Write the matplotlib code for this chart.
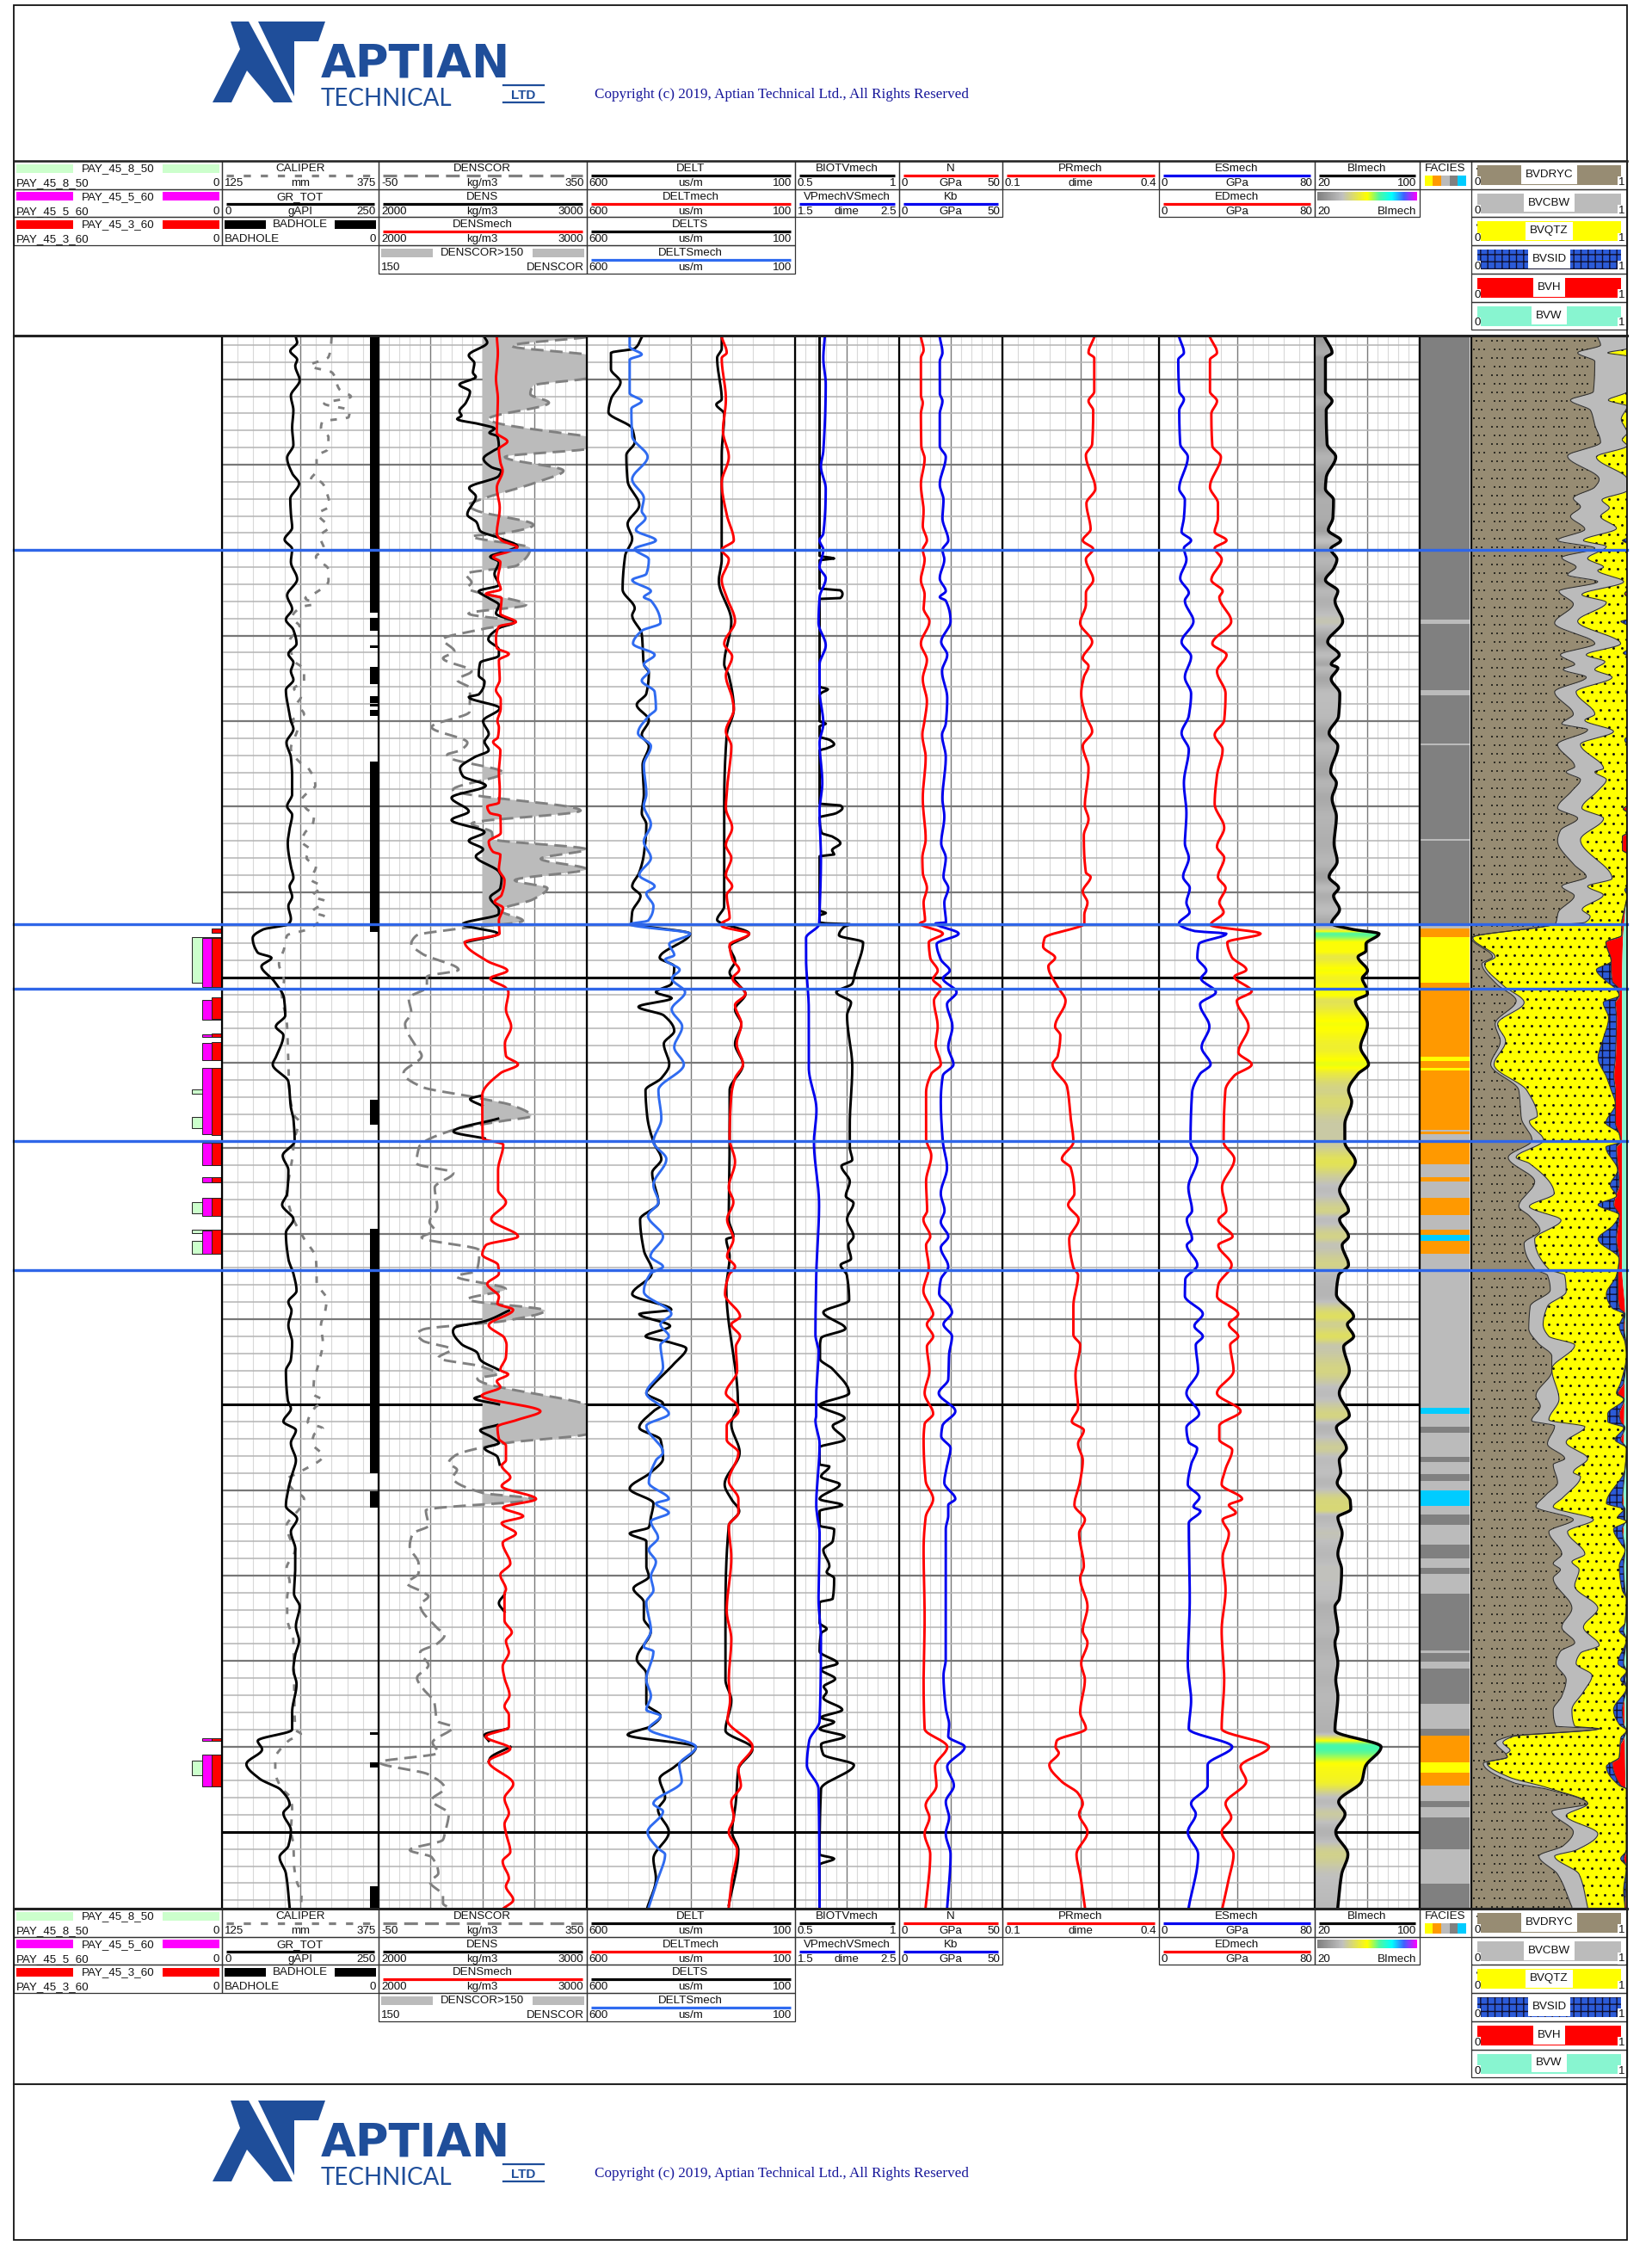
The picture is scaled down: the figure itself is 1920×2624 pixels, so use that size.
import numpy as np
import matplotlib
matplotlib.use("Agg")
import matplotlib.pyplot as plt
from matplotlib.patches import Polygon, Rectangle
from matplotlib.colors import LinearSegmentedColormap

plt.rcParams['font.family'] = ['Liberation Sans', 'DejaVu Sans']
nan = np.nan

# ---- curves as (depth, value) ------------------------------------------------
CALIPER = [(392,300),(403,299),(415,295),(425,265),(433,301),(453,313),(461,331),(469,288),(477,329),(485,327),(490,285),(498,283),(508,295),(522,294),(530,276),(547,276),(557,267),(560,283),(572,292),(588,297),(597,278),(613,295),(623,281),(638,288),(647,275),(662,295),(675,295),(690,272),(695,258),(702,272),(705,253),(718,237),(728,249),(745,233),(768,240),(778,256),(792,256),(800,240),(810,251),(818,245),(830,256),(837,237),(845,246),(870,235),(887,251),(892,262),(913,274),(922,260),(930,252),(940,260),(947,272),(960,269),(967,258),(978,252),(987,265),(997,260),(1007,275),(1022,267),(1030,283),(1042,269),(1047,289),(1060,269),(1065,289),(1074,275),(1080,262),(1087,229),(1103,224),(1120,216),(1140,224),(1150,220),(1193,229),(1240,231),(1270,233),(1297,241),(1303,248),(1323,241),(1347,237),(1387,229),(1413,237),(1437,254),(1463,275),(1480,276),(1490,276),(1510,292),(1523,290),(1540,283),(1560,286),(1580,281),(1593,276),(1602,272),(1620,271),(1627,285),(1637,272),(1653,262),(1660,286),(1667,272),(1677,269),(1692,286),(1710,251),(1720,228),(1730,237),(1742,256),(1753,249),(1763,237),(1773,228),(1787,233),(1800,242),(1823,228),(1838,233),(1857,229),(1880,229),(1907,239),(1950,240),(2010,242),(2015,251),(2022,233),(2032,219),(2043,210),(2058,210),(2077,219),(2090,235),(2103,237),(2127,235),(2143,239),(2167,240),(2188,245),(2200,252),(2217,251)]
GR_TOT = [(392,118),(398,120),(408,109),(418,120),(425,117),(442,124),(460,110),(477,114),(497,112),(517,114),(532,104),(550,112),(562,123),(580,109),(597,110),(613,112),(627,100),(638,112),(653,110),(673,120),(692,104),(708,112),(720,102),(732,114),(748,119),(760,106),(770,114),(780,110),(790,114),(802,102),(823,106),(838,110),(847,114),(863,103),(880,110),(903,112),(923,112),(937,104),(947,112),(963,108),(980,105),(1007,110),(1020,114),(1030,108),(1042,112),(1053,106),(1068,110),(1074,106),(1080,66),(1090,49),(1107,57),(1113,79),(1123,63),(1140,83),(1160,99),(1180,101),(1193,86),(1203,98),(1227,87),(1237,81),(1257,106),(1287,110),(1300,114),(1326,116),(1343,97),(1360,106),(1387,104),(1400,96),(1417,114),(1433,102),(1463,106),(1480,114),(1500,119),(1513,106),(1523,111),(1540,106),(1560,112),(1580,110),(1593,102),(1627,105),(1637,110),(1652,98),(1662,118),(1677,110),(1697,118),(1713,112),(1730,106),(1750,102),(1765,120),(1780,110),(1800,117),(1820,117),(1852,115),(1867,124),(1890,118),(1907,123),(1923,117),(1940,114),(1957,119),(1990,112),(2010,112),(2023,57),(2033,64),(2050,39),(2067,60),(2080,94),(2097,108),(2107,98),(2127,110),(2145,106),(2158,92),(2177,102),(2217,108)]
BADHOLE_TOP = [391,718,750,775,809,818,825,885,1278,1428,1733,2013,2048,2192]
BADHOLE_BASE = [712,733,753,795,817,821,832,1083,1307,1712,1752,2016,2054,2218]

DENSCOR = [(392,350),(402,206),(413,360),(430,420),(440,350),(448,248),(458,242),(468,278),(487,162),(507,350),(512,420),(522,350),(531,193),(547,306),(560,256),(583,135),(587,121),(593,137),(610,248),(620,187),(623,129),(637,242),(657,217),(667,118),(677,129),(683,121),(703,234),(713,123),(723,217),(731,150),(743,74),(757,96),(765,74),(780,129),(790,101),(800,126),(827,125),(845,52),(863,121),(872,107),(877,82),(880,85),(898,190),(918,93),(942,339),(957,129),(967,168),(975,170),(987,350),(998,262),(1010,350),(1023,212),(1032,275),(1045,248),(1058,184),(1070,228),(1080,94),(1087,23),(1097,13),(1108,33),(1127,104),(1135,43),(1147,43),(1160,8),(1177,13),(1190,1),(1217,23),(1227,33),(1247,-2),(1263,33),(1275,134),(1285,210),(1297,244),(1303,185),(1313,94),(1333,28),(1352,23),(1363,94),(1380,58),(1403,63),(1420,48),(1430,58),(1438,33),(1453,144),(1477,139),(1483,99),(1498,195),(1510,121),(1523,270),(1535,193),(1545,35),(1550,24),(1558,35),(1568,90),(1578,65),(1588,148),(1597,179),(1602,140),(1632,350),(1650,420),(1667,350),(1677,195),(1692,96),(1700,85),(1708,101),(1717,93),(1735,151),(1742,251),(1755,41),(1773,46),(1782,16),(1797,10),(1817,27),(1828,27),(1840,5),(1850,35),(1855,46),(1865,30),(1892,63),(1900,77),(1910,63),(1920,30),(1935,46),(1950,24),(1962,35),(1978,57),(2000,63),(2007,93),(2025,54),(2037,65),(2048,-48),(2062,46),(2078,77),(2092,52),(2108,85),(2127,79),(2138,74),(2150,10),(2158,52),(2177,65),(2187,49),(2203,74),(2212,74),(2218,90)]
DENS = [(392,2510),(398,2523),(413,2434),(422,2461),(433,2454),(438,2468),(447,2389),(455,2440),(468,2420),(478,2389),(483,2399),(487,2378),(493,2489),(498,2558),(503,2533),(507,2572),(520,2579),(523,2558),(533,2505),(543,2544),(547,2590),(553,2579),(567,2436),(577,2468),(598,2427),(607,2472),(617,2489),(625,2579),(635,2668),(640,2620),(647,2537),(653,2579),(667,2558),(680,2579),(687,2482),(695,2530),(703,2579),(713,2565),(723,2655),(730,2579),(743,2528),(755,2579),(762,2579),(770,2489),(785,2482),(792,2510),(807,2482),(810,2434),(823,2583),(838,2503),(853,2530),(862,2510),(872,2530),(880,2461),(893,2392),(902,2406),(913,2516),(927,2351),(943,2434),(953,2351),(967,2510),(977,2434),(987,2503),(995,2468),(1013,2579),(1020,2592),(1032,2586),(1043,2537),(1058,2579),(1062,2579),(1074,2405),(1085,2575),(1095,2415),(1096,nan),
        (1273,2499),(1277,2440),(1285,2499),(1286,nan),(1300,2575),(1315,2360),(1323,2511),(1324,nan),
        (1523,2627),(1535,2516),(1543,2365),(1547,2358),(1562,2399),(1572,2475),(1580,2489),(1592,2579),(1593,nan),(1622,2496),(1625,2461),(1632,2579),(1633,nan),(1656,2572),(1662,2489),(1670,2544),(1677,2579),(1683,2510),(1693,2572),(1702,2583),(1703,nan),
        (1853,2606),(1863,2579),(1873,2606),(1874,nan),(2009,2620),(2016,2510),(2023,2530),(2024,nan),(2030,2634),(2043,2537),(2047,2530)]
DENSMECH = [(392,2569),(410,2574),(440,2565),(463,2574),(503,2569),(513,2620),(522,2579),(537,2586),(547,2597),(567,2569),(590,2583),(620,2569),(628,2592),(636,2668),(641,2627),(647,2551),(653,2586),(673,2574),(685,2588),(690,2516),(695,2592),(713,2586),(723,2661),(728,2579),(742,2565),(753,2569),(760,2627),(767,2579),(790,2583),(802,2565),(813,2588),(823,2588),(838,2572),(845,2579),(857,2574),(862,2551),(872,2586),(897,2579),(917,2583),(933,2579),(937,2523),(945,2537),(948,2586),(968,2588),(978,2530),(990,2551),(993,2586),(1010,2579),(1023,2606),(1040,2592),(1048,2558),(1055,2599),(1070,2579),(1085,2582),(1095,2415),(1117,2524),(1128,2620),(1137,2537),(1148,2613),(1153,2625),(1173,2613),(1193,2638),(1213,2608),(1227,2613),(1237,2671),(1247,2587),(1273,2499),(1323,2501),(1330,2600),(1360,2575),(1383,2575),(1397,2613),(1417,2542),(1437,2671),(1447,2516),(1458,2499),(1470,2575),(1480,2579),(1492,2523),(1507,2579),(1515,2572),(1522,2648),(1540,2530),(1555,2606),(1563,2616),(1577,2613),(1592,2586),(1597,2624),(1605,2569),(1612,2586),(1622,2496),(1640,2779),(1650,2668),(1658,2572),(1672,2579),(1680,2613),(1697,2613),(1703,2592),(1717,2634),(1727,2592),(1742,2758),(1752,2599),(1762,2696),(1770,2592),(1782,2661),(1793,2597),(1817,2634),(1830,2586),(1847,2613),(1852,2606),(1870,2606),(1883,2606),(1897,2641),(1907,2613),(1920,2627),(1937,2597),(1950,2606),(1970,2630),(1983,2606),(1993,2627),(2007,2627),(2018,2516),(2032,2634),(2047,2530),(2073,2648),(2090,2606),(2107,2627),(2120,2606),(2130,2613),(2152,2634),(2163,2597),(2183,2627),(2192,2613),(2208,2648),(2218,2599)]

DELT = [(392,467),(405,484),(410,541),(429,541),(444,518),(464,541),(479,547),(498,490),(514,484),(529,504),(559,501),(587,473),(609,501),(626,490),(646,507),(685,513),(707,484),(715,490),(737,467),(772,462),(782,450),(806,456),(819,479),(837,450),(854,467),(867,450),(889,465),(923,462),(945,467),(958,456),(993,462),(1014,473),(1030,490),(1041,470),(1060,490),(1073,492),(1085,351),(1113,424),(1123,389),(1143,395),(1153,433),(1160,395),(1170,475),(1180,414),(1198,389),(1213,414),(1237,401),(1253,420),(1267,458),(1297,454),(1327,439),(1347,420),(1363,442),(1398,427),(1417,471),(1453,462),(1477,442),(1482,445),(1504,490),(1522,396),(1527,473),(1541,399),(1553,458),(1560,399),(1567,360),(1584,388),(1612,445),(1619,456),(1631,416),(1640,439),(1659,473),(1673,422),(1695,416),(1711,445),(1730,496),(1747,439),(1763,445),(1775,450),(1782,496),(1791,456),(1820,456),(1832,450),(1846,487),(1862,462),(1881,462),(1895,445),(1928,479),(1945,456),(1980,456),(1994,422),(2006,445),(2016,501),(2030,337),(2053,388),(2067,424),(2089,411),(2103,428),(2129,402),(2160,439),(2183,433),(2216,453)]
DELTSMECH = [(392,496),(403,496),(412,467),(418,496),(457,496),(466,467),(475,492),(507,490),(531,453),(557,490),(579,462),(594,467),(602,458),(616,481),(628,433),(638,484),(650,450),(667,456),(674,490),(687,445),(694,462),(698,445),(724,422),(733,467),(748,488),(761,436),(772,462),(780,450),(791,467),(804,436),(824,433),(832,450),(852,476),(867,445),(889,462),(923,456),(936,462),(958,445),(978,462),(997,445),(1017,473),(1030,436),(1038,456),(1053,439),(1070,452),(1074,496),(1085,351),(1097,401),(1110,389),(1115,411),(1127,376),(1137,395),(1153,363),(1173,395),(1193,370),(1217,389),(1237,366),(1267,427),(1300,420),(1327,439),(1347,408),(1377,439),(1397,427),(1413,452),(1437,416),(1460,446),(1472,416),(1480,446),(1501,462),(1527,396),(1539,422),(1553,402),(1563,422),(1589,416),(1619,456),(1643,402),(1657,456),(1688,416),(1697,433),(1723,450),(1742,402),(1747,433),(1758,402),(1768,445),(1787,428),(1801,450),(1815,433),(1832,445),(1848,439),(1862,456),(1895,445),(1914,462),(1919,439),(1952,456),(1971,445),(1987,456),(1994,422),(2009,450),(2030,337),(2051,377),(2070,371),(2096,439),(2105,416),(2129,453),(2148,428),(2155,411),(2183,428),(2216,450)]
DELTMECH = [(392,275),(410,263),(416,275),(464,265),(501,272),(531,258),(561,275),(598,263),(628,246),(639,275),(650,258),(674,275),(694,263),(722,243),(748,269),(763,250),(785,265),(811,250),(824,246),(850,265),(867,252),(910,261),(939,265),(962,250),(982,265),(997,252),(1017,265),(1030,250),(1040,263),(1067,256),(1073,275),(1076,275),(1085,209),(1098,256),(1115,249),(1127,233),(1137,249),(1155,218),(1168,243),(1190,228),(1213,239),(1237,224),(1253,243),(1273,252),(1323,256),(1350,243),(1380,258),(1397,247),(1417,262),(1440,247),(1460,262),(1472,243),(1482,258),(1504,267),(1530,231),(1539,252),(1553,231),(1565,241),(1593,238),(1619,265),(1633,238),(1640,235),(1657,263),(1673,263),(1688,235),(1721,258),(1742,235),(1758,235),(1773,258),(1810,252),(1872,263),(1905,252),(1952,258),(1976,255),(1999,261),(2030,201),(2056,235),(2075,229),(2094,252),(2112,246),(2129,258),(2150,238),(2183,250),(2216,258)]
DELTS = [(392,275),(405,275),(416,286),(464,275),(470,288),(481,269),(529,275),(650,275),(675,282),(722,252),(772,269),(785,258),(824,246),(854,263),(932,269),(1032,269),(1053,269),(1069,286),(1085,209),(1100,256),(1117,243),(1130,256),(1143,237),(1155,218),(1173,243),(1190,228),(1213,243),(1237,224),(1267,256),(1323,256),(1417,258),(1437,247),(1440,264),(1460,256),(1497,264),(1632,236),(1655,252),(1688,232),(1725,268),(1742,252),(1756,233),(1773,258),(1872,266),(1933,266),(1952,266),(1976,252),(2011,266),(2032,201),(2056,235),(2094,241),(2129,250),(2150,235),(2214,258)]

BIOTVMECH = [(392,.62),(646,.62),(649,.69),(651,.62),(684,.62),(686,.72),(690,.73),(695,.72),(696,.62),(798,.62),(801,.66),(805,.63),(808,.62),(838,.62),(841,.65),(844,.62),(856,.62),(860,.67),(865,.69),(870,.65),(872,.62),(934,.62),(936,.72),(939,.73),(945,.70),(950,.62),(968,.63),(972,.68),(980,.72),(988,.68),(993,.69),(995,.62),(1058,.62),(1061,.65),(1064,.62),(1072,.62),(1073,.65),(1074,.765),(1077,.738),(1087,.713),(1095,.829),(1130,.791),(1143,.777),(1153,.70),(1165,.771),(1180,.752),(1240,.777),(1307,.765),(1333,.765),(1348,.777),(1355,.725),(1373,.765),(1390,.746),(1398,.783),(1417,.752),(1437,.783),(1447,.758),(1463,.771),(1470,.721),(1482,.751),(1511,.762),(1525,.638),(1544,.744),(1555,.627),(1563,.622),(1579,.622),(1591,.683),(1619,.762),(1633,.62),(1648,.74),(1657,.683),(1673,.74),(1682,.62),(1702,.62),(1704,.667),(1716,.627),(1725,.717),(1742,.62),(1749,.729),(1756,.62),(1773,.62),(1777,.69),(1791,.683),(1801,.638),(1820,.667),(1827,.654),(1834,.69),(1858,.683),(1862,.62),(1886,.62),(1893,.654),(1898,.627),(1919,.62),(1933,.706),(1940,.627),(1951,.695),(1960,.64),(1966,.654),(1973,.638),(1987,.729),(1996,.627),(2001,.69),(2009,.62),(2018,.74),(2027,.627),(2039,.638),(2051,.785),(2079,.627),(2155,.62),(2160,.69),(2167,.62),(2216,.62)]
VPVSMECH = [(392,1.79),(416,1.776),(446,1.799),(524,1.776),(542,1.753),(568,1.799),(620,1.776),(628,1.74),(639,1.776),(659,1.74),(672,1.799),(694,1.74),(724,1.73),(750,1.799),(772,1.74),(802,1.74),(841,1.776),(863,1.74),(910,1.766),(941,1.74),(997,1.753),(1060,1.74),(1074,1.735),(1090,1.61),(1113,1.61),(1173,1.636),(1240,1.636),(1290,1.71),(1327,1.686),(1400,1.735),(1482,1.708),(1551,1.70),(1570,1.73),(1622,1.708),(1645,1.708),(1650,1.70),(1678,1.74),(1749,1.708),(1782,1.74),(1858,1.73),(1905,1.753),(2000,1.74),(2023,1.64),(2051,1.618),(2079,1.73),(2216,1.74)]

N_MECH = [(392,10.7),(407,12),(416,10.7),(459,10.7),(468,11.6),(481,10.7),(518,10.9),(533,12.5),(563,10.7),(594,12),(611,11.6),(628,13.6),(639,11.6),(650,12.5),(674,10.7),(691,12.5),(707,12),(722,14.8),(748,10.7),(767,13.6),(789,11.6),(815,13.6),(837,12.5),(854,11.4),(880,13),(928,11.6),(975,13),(997,11.4),(1014,11.6),(1032,13.6),(1049,12),(1070,12.7),(1073,10.2),(1085,21.3),(1095,14.5),(1113,15.2),(1128,18.8),(1138,16.5),(1148,20.3),(1163,17),(1193,18.8),(1213,17.8),(1237,20.3),(1248,15.7),(1270,13.2),(1323,13.2),(1343,15.7),(1373,13.2),(1407,13.7),(1417,11.9),(1437,15.2),(1447,13.2),(1473,14.5),(1500,11.9),(1518,15.2),(1527,16.6),(1539,13.6),(1553,16.6),(1565,13.6),(1593,14.8),(1619,12.5),(1643,16.6),(1655,12.5),(1673,12),(1721,13),(1742,16.6),(1763,13),(1801,12),(1881,12.5),(1952,12),(2009,12.5),(2030,23.4),(2053,17.5),(2075,18.2),(2098,13),(2112,14.8),(2131,12.5),(2155,15.2),(2216,13)]
KB = [(392,19.8),(410,21.1),(420,19.8),(457,19.8),(466,21.1),(481,19.8),(518,19.8),(531,22.7),(563,19.8),(581,21.6),(602,21.1),(628,23.9),(639,21.1),(650,22),(672,19.8),(687,22.7),(694,19.8),(698,22.7),(722,25),(746,20.5),(761,23.4),(780,20.9),(811,23.4),(841,22.7),(854,20.9),(880,22.7),(928,21.1),(949,22),(980,20.5),(997,22.7),(1019,21.6),(1032,23.9),(1049,22),(1072,22.8),(1073,17.8),(1085,28.9),(1097,18.3),(1115,20.3),(1128,24.6),(1137,21.3),(1153,27.9),(1167,23.3),(1193,25.9),(1217,23.9),(1237,26.4),(1250,21.3),(1280,20.3),(1327,21.3),(1357,23.3),(1387,20.3),(1407,22.1),(1420,20.3),(1437,23.9),(1450,20.3),(1472,23.9),(1487,20.3),(1503,19.5),(1518,24.6),(1525,25.7),(1539,21.6),(1553,25.7),(1574,24.3),(1603,23.9),(1619,19.3),(1640,27.3),(1657,21.1),(1669,20.5),(1683,25),(1702,23.4),(1723,22),(1742,27.3),(1749,23.9),(1761,23.9),(1777,22.7),(1858,22.7),(1928,22.7),(1947,21.6),(1985,22.7),(2004,24.3),(2018,23.9),(2030,31.8),(2053,23.4),(2075,26.6),(2094,22.7),(2112,24.3),(2131,22.7),(2155,25),(2216,23.4)]
PRMECH = [(392,.276),(410,.265),(416,.276),(455,.276),(466,.265),(477,.274),(516,.272),(529,.26),(568,.278),(585,.261),(615,.269),(628,.254),(638,.274),(650,.26),(674,.274),(689,.26),(702,.26),(724,.249),(746,.272),(765,.254),(774,.265),(787,.256),(806,.251),(832,.26),(850,.272),(867,.254),(893,.265),(936,.258),(952,.265),(971,.256),(1014,.26),(1019,.269),(1036,.254),(1049,.263),(1063,.257),(1073,.257),(1090,.181),(1100,.178),(1113,.201),(1123,.188),(1147,.206),(1163,.221),(1193,.201),(1203,.211),(1227,.206),(1237,.196),(1263,.224),(1300,.231),(1327,.236),(1347,.214),(1357,.231),(1387,.238),(1400,.226),(1417,.246),(1440,.228),(1473,.236),(1482,.245),(1518,.236),(1551,.236),(1563,.249),(1598,.24),(1636,.245),(1652,.233),(1662,.256),(1678,.245),(1697,.254),(1721,.249),(1749,.238),(1766,.258),(1782,.247),(1820,.256),(1834,.249),(1867,.263),(1895,.254),(1909,.263),(1933,.251),(1952,.258),(1990,.249),(2009,.26),(2023,.204),(2030,.202),(2037,.208),(2051,.19),(2070,.213),(2084,.245),(2096,.254),(2108,.247),(2129,.263),(2155,.242),(2178,.249),(2216,.258)]
ESMECH = [(392,10.4),(410,12.8),(418,9.9),(455,10.4),(464,12.8),(477,10.4),(516,10.9),(531,14.8),(568,10.4),(581,13.3),(602,12.8),(618,11.6),(628,16.5),(637,12.8),(650,14.1),(672,10.9),(689,15.3),(698,13.3),(722,17.7),(746,11.6),(763,16.5),(787,13.3),(806,16.5),(832,15.3),(852,11.6),(871,15.3),(910,12.8),(945,14.1),(980,13.3),(997,15.3),(1019,12.4),(1032,15.8),(1049,14.1),(1060,15.7),(1073,10.3),(1082,18.4),(1085,34.6),(1097,20.5),(1113,19.7),(1128,24.3),(1137,21.6),(1153,29.2),(1167,21.1),(1193,25.9),(1217,21.9),(1237,26.5),(1248,21.1),(1270,17),(1327,16.2),(1347,19.7),(1380,15.1),(1407,17),(1417,14.3),(1440,17),(1447,14.3),(1470,19.7),(1487,13.5),(1506,13.3),(1527,22.5),(1541,18.2),(1553,22.5),(1563,18.9),(1593,20.1),(1619,14.1),(1643,20.6),(1659,14.1),(1676,15.3),(1683,19.6),(1702,16.5),(1725,14.8),(1740,20.8),(1751,17.7),(1756,21.3),(1770,15.3),(1858,15.8),(1933,14.8),(1976,16.5),(2009,15.3),(2030,37.6),(2051,25),(2075,25),(2096,16.5),(2108,18.9),(2129,14.8),(2155,20.1),(2216,15.3)]
EDMECH = [(392,26.2),(410,29.8),(418,26.2),(455,26.2),(466,29.8),(481,26.9),(518,27.4),(531,31.8),(566,26.2),(585,30.3),(602,30.3),(618,28.6),(628,34.7),(637,28.6),(650,32.2),(674,26.9),(687,32.7),(694,31),(722,37.1),(748,27.4),(761,34.7),(780,29.8),(806,34.2),(837,33.5),(854,28.6),(871,32.7),(901,29.8),(934,28.6),(962,33.5),(984,29.8),(997,33.5),(1019,30.3),(1032,34.2),(1049,31),(1060,33.2),(1075,26.5),(1085,52.2),(1095,35.1),(1112,37.3),(1127,44.9),(1135,38.7),(1152,47.6),(1163,40),(1193,46),(1223,40.8),(1237,47.6),(1250,38.7),(1267,34.1),(1327,33.2),(1347,38.7),(1380,32.4),(1407,34.6),(1418,30.5),(1437,37.8),(1447,30.5),(1470,37.3),(1493,30.5),(1506,29.8),(1527,40.7),(1539,35.9),(1553,40.7),(1563,36.6),(1593,38.3),(1619,29.8),(1640,41.9),(1657,31),(1673,31),(1685,37.6),(1707,34.2),(1725,32.2),(1742,42.7),(1749,35.9),(1758,39.5),(1766,32.7),(1782,35.9),(1810,32.7),(1848,34.2),(1895,32.2),(1952,33.5),(2009,32.2),(2030,56.5),(2053,41.9),(2070,44.8),(2096,34.2),(2112,37.1),(2129,32.2),(2155,38.3),(2183,35.9),(2216,32.7)]
BIMECH = [(392,27.7),(410,33.3),(416,28.2),(455,28.2),(466,33.3),(477,28.8),(516,29.5),(531,36.1),(555,28.8),(568,28.2),(581,34.4),(602,33.9),(616,30.4),(628,39.9),(638,32.2),(650,37),(661,34.4),(674,28.2),(687,37.7),(698,35.5),(722,41.4),(746,29.9),(761,38.8),(772,32.6),(776,37.7),(789,32.6),(806,39.2),(832,38.3),(852,31),(867,37.7),(897,32.2),(910,36.6),(928,33.3),(949,36.6),(980,34.8),(1001,37.2),(1019,31),(1032,38.3),(1041,34.4),(1057,39),(1073,32.9),(1080,49),(1085,69.3),(1097,59.2),(1105,59.2),(1112,53.1),(1128,60.4),(1137,56.4),(1147,59.2),(1155,60.4),(1163,51.1),(1190,60.4),(1217,55.1),(1237,61.2),(1248,53.1),(1267,45.9),(1280,48.3),(1307,43),(1327,43),(1350,51.1),(1370,43),(1383,39),(1407,45.9),(1417,39),(1437,45.9),(1447,41),(1470,45.9),(1482,38.3),(1504,36.6),(1530,49.8),(1539,45),(1553,49.8),(1565,42.1),(1593,46.5),(1619,38.8),(1645,46.5),(1659,36.6),(1683,44.3),(1697,38.8),(1711,39.9),(1723,37.2),(1744,47.2),(1754,47.6),(1763,37.7),(1782,41),(1806,37.7),(1824,40.6),(1858,38.8),(1867,35.5),(1895,37.7),(1909,35.5),(1933,37.7),(1952,36.1),(1971,37.7),(2011,35.5),(2030,70.8),(2053,58.7),(2070,56),(2094,38.3),(2108,43.2),(2129,36.1),(2155,45.4),(2178,40.6),(2216,37.7)]

FACIES_TOP  = [391,720,725,802,808,864,866,975,977,1073,1079,1089,1142,1228,1233,1241,1244,1313,1315,1318,1328,1353,1368,1373,1392,1412,1429,1435,1442,1457,1636,1643,1658,1665,1693,1699,1713,1721,1732,1750,1760,1772,1795,1811,1822,1829,1852,1918,1921,1931,1939,1980,2009,2017,2048,2060,2075,2093,2100,2112,2149,2189,2193]
FACIES_BASE = FACIES_TOP[1:] + [2218]
FACIES_CODE = ['D','L','D','L','D','L','D','L','D','L','O','Y','O','Y','O','Y','O','L','O','L','O','L','O','L','O','L','O','C','O','L','C','L','D','L','D','L','D','L','C','L','D','L','D','L','D','L','D','L','D','L','D','L','D','O','Y','O','L','D','L','D','L','D','D']
FACIES_COLOR = {'D':'#808080','L':'#bbbbbb','O':'#ff9900','Y':'#ffff00','C':'#00ccff'}

# cumulative volume boundaries, fraction of the 0-1 track
V_DRY = [(392,.812),(401,.83),(410,.683),(420,.793),(455,.784),(465,.637),(477,.766),(494,.793),(514,.83),(530,.618),(557,.821),(566,.793),(579,.655),(589,.701),(600,.637),(615,.729),(628,.554),(637,.793),(648,.581),(659,.673),(668,.618),(676,.812),(687,.563),(702,.655),(724,.535),(748,.793),(761,.572),(772,.664),(778,.59),(787,.738),(804,.535),(830,.655),(841,.581),(848,.747),(865,.554),(891,.664),(897,.609),(906,.701),(919,.646),(939,.554),(951,.683),(965,.572),(977,.554),(1004,.655),(1019,.738),(1030,.581),(1041,.661),(1060,.559),(1073,.542),(1090,0),(1112,.136),(1120,.068),(1143,.159),(1163,.288),(1190,.153),(1210,.186),(1237,.125),(1267,.305),(1300,.322),(1325,.39),(1345,.237),(1373,.407),(1402,.305),(1413,.373),(1430,.441),(1445,.339),(1475,.407),(1482,.489),(1499,.507),(1518,.378),(1544,.369),(1560,.424),(1576,.517),(1593,.517),(1622,.415),(1634,.443),(1651,.387),(1657,.535),(1678,.489),(1695,.6),(1702,.526),(1723,.554),(1737,.48),(1751,.415),(1766,.655),(1780,.498),(1806,.581),(1817,.526),(1824,.572),(1834,.526),(1869,.646),(1891,.581),(1909,.664),(1919,.572),(1933,.544),(1952,.609),(1971,.581),(1987,.526),(2006,.544),(2009,.812),(2018,.24),(2025,.157),(2042,.231),(2049,.077),(2072,.277),(2079,.48),(2096,.747),(2105,.517),(2129,.655),(2145,.59),(2157,.434),(2178,.554),(2216,.646)]
V_CBW = [(392,1),(405,1),(410,.876),(414,1),(455,1),(465,.88),(472,1),(487,.963),(503,1),(511,.969),(518,1),(531,.803),(557,1),(570,1),(581,.839),(590,.886),(600,.83),(614,.932),(628,.72),(635,.867),(649,.747),(659,.849),(663,.812),(676,.978),(691,.71),(700,.867),(722,.683),(748,.959),(761,.738),(769,.858),(778,.793),(787,.904),(804,.673),(830,.793),(837,.729),(850,.913),(865,.701),(893,.849),(897,.793),(906,.867),(919,.812),(939,.71),(951,.849),(976,.701),(1021,.904),(1030,.747),(1040,.847),(1057,.712),(1065,.763),(1072,.729),(1077,.322),(1090,.01),(1112,.153),(1120,.085),(1145,.203),(1165,.339),(1190,.169),(1210,.22),(1237,.146),(1267,.356),(1297,.424),(1303,.373),(1325,.464),(1345,.288),(1352,.373),(1387,.532),(1402,.373),(1418,.576),(1440,.407),(1475,.498),(1482,.6),(1501,.609),(1518,.489),(1539,.461),(1553,.498),(1563,.664),(1591,.517),(1626,.563),(1650,.498),(1658,.729),(1676,.609),(1695,.747),(1711,.655),(1716,.701),(1740,.59),(1751,.526),(1766,.784),(1780,.618),(1806,.729),(1815,.646),(1824,.692),(1843,.664),(1869,.812),(1891,.72),(1912,.821),(1921,.701),(1933,.673),(1947,.775),(1966,.72),(1987,.646),(2006,.664),(2009,.821),(2018,.268),(2025,.203),(2034,.249),(2049,.101),(2065,.24),(2077,.48),(2096,.747),(2110,.609),(2131,.812),(2150,.673),(2157,.535),(2178,.692),(2216,.747)]
V_QTZ = [(391,1),(625,1),(628,.97),(632,1),(686,1),(690,.985),(694,1),(720,1),(722,.96),(727,1),(755,1),(759,.975),(762,1),(800,1),(804,.99),(808,1),(855,1),(860,.985),(866,1),(936,1),(940,.975),(944,1),(968,1),(972,.97),(988,.97),(992,1),(1030,1),(1034,.985),(1040,1),(1057,.983),(1073,.966),(1087,.966),(1095,.864),(1117,.898),(1127,.803),(1140,.864),(1150,.932),(1157,.949),(1165,.847),(1183,.881),(1207,.847),(1230,.814),(1250,.864),(1267,.898),(1283,.925),(1305,.864),(1317,.949),(1327,.959),(1333,.864),(1360,.939),(1377,.892),(1390,.932),(1400,.814),(1412,.949),(1423,.915),(1440,.814),(1463,.949),(1482,.932),(1504,.867),(1520,.904),(1527,.978),(1541,.95),(1560,.987),(1574,.996),(1607,.959),(1619,.932),(1626,.978),(1643,.876),(1652,.876),(1659,.978),(1673,.923),(1683,.996),(1707,.987),(1747,.867),(1754,.978),(1763,.941),(1768,.996),(1777,.913),(1796,.969),(1801,.987),(1820,.95),(1848,.969),(1858,.996),(1886,.987),(1895,.95),(1905,.996),(1933,.941),(1942,.996),(1952,.959),(1961,.996),(1987,.913),(2004,.95),(2011,.996),(2020,.959),(2042,.95),(2053,.867),(2075,.95),(2079,.996),(2150,.996),(2160,.959),(2169,.996),(2197,.978),(2216,.987)]
V_SID = [(391,1),(686,1),(690,.985),(694,1),(936,1),(940,.975),(944,1),(968,1),(972,.97),(988,.97),(992,1),(1030,1),(1040,.99),(1057,.983),(1073,.966),(1087,.966),(1095,.864),(1117,.898),(1127,.898),(1140,.905),(1150,.949),(1157,.949),(1165,.925),(1183,.932),(1230,.925),(1250,.915),(1267,.925),(1305,.925),(1317,.949),(1327,.959),(1333,.932),(1377,.949),(1390,.925),(1400,.915),(1412,.949),(1440,.932),(1463,.949),(1482,.941),(1504,.941),(1520,.95),(1527,.987),(1541,.978),(1560,.993),(1574,.996),(1607,.978),(1619,.941),(1626,.982),(1643,.95),(1652,.959),(1659,.987),(1673,.959),(1683,.996),(1707,.987),(1725,.978),(1747,.969),(1754,.987),(1768,.987),(1777,.969),(1801,.987),(1820,.978),(1848,.987),(1858,.996),(1886,.987),(1895,.978),(1905,.996),(1933,.978),(1942,.996),(1952,.987),(1961,.996),(1987,.969),(2004,.978),(2011,.996),(2020,.978),(2046,.904),(2075,.959),(2079,.996),(2150,.996),(2160,.978),(2169,.996),(2216,.987)]
V_H = [(391,1),(686,1),(690,.995),(694,1),(936,1),(940,.995),(944,1),(968,1),(980,.995),(992,1),(1040,.995),(1060,.985),(1095,.97),(1145,.965),(1300,.965),(1470,.965),(1527,.985),(1743,.975),(2046,.985),(2150,.995),(2216,.995)]

PAY_8_TOP = [1089,1266,1298,1397,1429,1442,2046]
PAY_8_BASE = [1142,1271,1311,1410,1433,1457,2063]
PAY_5_TOP = [1090,1162,1202,1212,1241,1328,1368,1392,1430,2020,2039]
PAY_5_BASE = [1147,1185,1205,1232,1318,1354,1374,1413,1457,2023,2076]
PAY_3_TOP = [1079,1090,1159,1201,1211,1241,1328,1368,1392,1429,2020,2039]
PAY_3_BASE = [1084,1147,1184,1205,1232,1319,1354,1374,1413,1457,2023,2076]

BLUE_MARKERS = [639,1074,1148.7,1326,1476]
GRID_STEP = 19.86
GRID_FIRST = 401.0

# ---- layout -------------------------------------------------------------------
W, H = 1920, 2624
LOG_TOP, LOG_BASE = 391, 2218
HDR_TOP_A, HDR_TOP_B = 187, 2218
ROW = 32.7
X = [16, 258, 440, 681.5, 923.5, 1044.5, 1165, 1347, 1528, 1649.5, 1710, 1891]

fig = plt.figure(figsize=(W/100, H/100), dpi=100, facecolor='white')

def hermite(d, v, step=1.0):
    """Shape-preserving cubic drawn through the read samples (display smoothing only)."""
    d, idx = np.unique(np.asarray(d, float), return_index=True)
    v = np.asarray(v, float)[idx]
    if len(d) < 3:
        return d, v
    h = np.diff(d); s = np.diff(v)/h
    m = np.zeros_like(v); m[0] = s[0]; m[-1] = s[-1]
    for i in range(1, len(d)-1):
        if s[i-1]*s[i] > 0:
            w1, w2 = 2*h[i]+h[i-1], h[i]+2*h[i-1]
            m[i] = (w1+w2)/(w1/s[i-1]+w2/s[i])
    g = np.unique(np.concatenate([np.arange(d[0], d[-1], step), d]))
    k = np.clip(np.searchsorted(d, g, side='right')-1, 0, len(h)-1)
    t = (g-d[k])/h[k]
    y = ((2*t**3-3*t**2+1)*v[k] + (t**3-2*t**2+t)*h[k]*m[k]
         + (-2*t**3+3*t**2)*v[k+1] + (t**3-t**2)*h[k]*m[k+1])
    return g, y

def track(i, zorder=2):
    x0, x1 = X[i], X[i+1]
    ax = fig.add_axes([x0/W, 1-LOG_BASE/H, (x1-x0)/W, (LOG_BASE-LOG_TOP)/H], zorder=zorder)
    ax.set_xlim(0, 1); ax.set_ylim(LOG_BASE, LOG_TOP)
    ax.set_xticks([]); ax.set_yticks([])
    for s in ax.spines.values():
        s.set_visible(False)
    return ax

def grid(ax, n, every):
    for k in range(n+1):
        major = k % every == 0
        ax.axvline(k/n, color='#7a7a7a' if major else '#d9d9d9', lw=1.0 if major else .8, zorder=1)
    y = GRID_FIRST; k = 0
    while y < LOG_BASE:
        m = (k-2) % 5 == 0
        black = (k-12) % 25 == 0
        if black:
            ax.axhline(y, color='black', lw=2.2, zorder=1.5)
        elif m:
            ax.axhline(y, color='#777777', lw=1.6, zorder=1.5)
        else:
            ax.axhline(y, color='#b4b4b4', lw=1.1, zorder=1.2)
        k += 1; y = GRID_FIRST + k*GRID_STEP

def line(ax, data, lo, hi, color, ls='-', z=5, lw=2.1):
    a = np.array(data, float)
    breaks = np.where(np.isnan(a[:, 1]))[0]
    start = 0
    for e in list(breaks)+[len(a)]:
        seg = a[start:e]
        start = e+1
        if len(seg) < 2:
            continue
        g, y = hermite(seg[:, 0], seg[:, 1])
        ax.plot((y-lo)/(hi-lo), g, color=color, lw=lw, ls=ls, zorder=z,
                solid_joinstyle='round', dash_joinstyle='round', dash_capstyle='butt')

DASH_CAL = (0, (2.6, 3.6))
DASH_DEN = (0, (5.0, 2.6))
GRAYD = '#808080'
BLUE2 = '#2f6bf0'
BLUEK = '#0000ee'
RED = '#ff0000'

# pay flags
ax = track(0)
ax.set_xlim(21, 0)
for tops, bases, w, c in ((PAY_8_TOP, PAY_8_BASE, 3, '#ccffcc'), (PAY_5_TOP, PAY_5_BASE, 2, '#ff00ff'), (PAY_3_TOP, PAY_3_BASE, 1, '#ff0000')):
    t, b = np.array(tops), np.array(bases)
    ax.barh((t+b)/2, [w]*len(t), height=b-t, left=0, color=c, edgecolor='#222222', linewidth=.7)

# caliper / GR
ax = track(1); grid(ax, 10, 5)
t, b = np.array(BADHOLE_TOP), np.array(BADHOLE_BASE)
ax.barh((t+b)/2, [1/19]*len(t), height=b-t, left=1-1/19, color='black', zorder=3)
line(ax, CALIPER, 125, 375, GRAYD, DASH_CAL, z=4)
line(ax, GR_TOT, 0, 250, 'black')

# density
ax = track(2); grid(ax, 20, 5)
a = np.array(DENSCOR, float)
gd, yd = hermite(a[:, 0], a[:, 1], .25)
fg = np.arange(LOG_TOP, LOG_BASE+.25, .25)
dc = np.interp(fg, gd, yd)
ax.fill_betweenx(fg, .5, (dc+50)/400, where=dc > 150, color='#bbbbbb', lw=0, zorder=3, interpolate=True)
line(ax, DENSCOR, -50, 350, GRAYD, DASH_DEN, z=4)
line(ax, DENS, 2000, 3000, 'black', z=5)
line(ax, DENSMECH, 2000, 3000, RED, z=6)

# sonic
ax = track(3); grid(ax, 10, 5)
line(ax, DELT, 600, 100, 'black', z=4)
line(ax, DELTSMECH, 600, 100, BLUE2, z=5)
line(ax, DELTS, 600, 100, 'black', z=4)
line(ax, DELTMECH, 600, 100, RED, z=5)

ax = track(4); grid(ax, 10, 5)
line(ax, BIOTVMECH, .5, 1, 'black', z=4)
line(ax, VPVSMECH, 1.5, 2.5, BLUEK, z=5)

ax = track(5); grid(ax, 10, 5)
line(ax, N_MECH, 0, 50, RED); line(ax, KB, 0, 50, BLUEK)

ax = track(6); grid(ax, 10, 5)
line(ax, PRMECH, .1, .4, RED)

ax = track(7); grid(ax, 10, 5)
line(ax, ESMECH, 0, 80, BLUEK); line(ax, EDMECH, 0, 80, RED)

# brittleness with colour fill
BI_CMAP = LinearSegmentedColormap.from_list('bi', [(0, '#808080'), (.25, '#c0c0c0'), (.5, '#ffff00'), (.62, '#50f8a0'), (.75, '#00ffff'), (.87, '#4060ff'), (1, '#ff00ff')])
ax = track(8); grid(ax, 10, 5)
a = np.array(BIMECH, float)
gb, yb = hermite(a[:, 0], a[:, 1], .5)
fg2 = np.arange(LOG_TOP, LOG_BASE+.5, .5)
bi = np.interp(fg2, gb, yb)
img = ax.imshow(BI_CMAP((bi-20)/80)[:, None, :3], extent=[0, 1, LOG_BASE, LOG_TOP], aspect='auto', zorder=3, interpolation='bilinear')
ax.set_xlim(0, 1); ax.set_ylim(LOG_BASE, LOG_TOP)
poly = ax.fill_betweenx(fg2, 0, (bi-20)/80, color='none', lw=0)
img.set_clip_path(poly.get_paths()[0], poly.get_transform())
line(ax, BIMECH, 20, 100, 'black', z=5, lw=2.5)

# facies
ax = track(9)
t, b = np.array(FACIES_TOP), np.array(FACIES_BASE)
ax.barh((t+b)/2, .95, height=b-t, left=.025, color=[FACIES_COLOR[c] for c in FACIES_CODE], lw=0)

# volumes
def dry_tex(ax, x0, x1, y0, y1, dx, dy, clip=None, tr=None):
    xs, ys = [], []
    r = 0; y = y0+dy/2
    while y < y1:
        x = x0 + (r % 2)*dx*.5; i = 0
        while x < x1:
            if i % 4 != 3:
                xs.append(x); ys.append(y)
            x += dx; i += 1
        r += 1; y += dy
    sc = ax.scatter(xs, ys, s=1.6, c='#2f2d25', marker='s', lw=0, zorder=4, clip_on=True)
    if clip is not None:
        sc.set_clip_path(clip, tr)

def qtz_tex(ax, x0, x1, y0, y1, dx, dy, clip=None, tr=None):
    xs, ys = [], []
    r = 0; y = y0+dy/2
    while y < y1:
        x = x0 + (r % 2)*dx*.5
        while x < x1:
            xs.append(x); ys.append(y)
            x += dx
        r += 1; y += dy
    sc = ax.scatter(xs, ys, s=4.5, c='#111111', marker='o', lw=0, zorder=4)
    if clip is not None:
        sc.set_clip_path(clip, tr)

ax = track(10)
fg3 = np.arange(LOG_TOP, LOG_BASE+.5, .5)
bnds = []
for v in (V_DRY, V_CBW, V_QTZ, V_SID, V_H):
    a = np.array(v, float)
    g_, y_ = hermite(a[:, 0], a[:, 1], .5)
    bnds.append(np.interp(fg3, g_, y_))
for i in range(1, 5):
    bnds[i] = np.maximum(bnds[i], bnds[i-1])
zero, one = np.zeros_like(fg3), np.ones_like(fg3)
p_dry = ax.fill_betweenx(fg3, zero, bnds[0], color='#978c73', lw=0, zorder=2)
ax.fill_betweenx(fg3, bnds[0], bnds[1], color='#bbbbbb', lw=0, zorder=2)
p_q = ax.fill_betweenx(fg3, bnds[1], bnds[2], color='#ffff00', lw=0, zorder=2)
ax.fill_betweenx(fg3, bnds[2], bnds[3], facecolor='#2c5bd8', edgecolor='#101030', hatch='++', lw=0, zorder=2)
ax.fill_betweenx(fg3, bnds[3], bnds[4], color='#ff0000', lw=0, zorder=2)
ax.fill_betweenx(fg3, bnds[4], one, color='#88f5d0', lw=0, zorder=2)
for b_ in bnds[:4]:
    ax.plot(b_, fg3, color='#333333', lw=.8, zorder=3)
dry_tex(ax, 0, 1, LOG_TOP, LOG_BASE, 6/181, 10, p_dry.get_paths()[0], p_dry.get_transform())
qtz_tex(ax, 0, 1, LOG_TOP, LOG_BASE, 10/181, 10.2, p_q.get_paths()[0], p_q.get_transform())

# ---- page overlay -------------------------------------------------------------
bg = fig.add_axes([0, 0, 1, 1], zorder=10)
bg.set_xlim(0, W); bg.set_ylim(H, 0); bg.axis('off'); bg.patch.set_alpha(0)

for x in X[1:-1]:
    bg.plot([x, x], [LOG_TOP, LOG_BASE], color='black', lw=1.6, zorder=3)
for y in BLUE_MARKERS:
    bg.plot([X[0], X[-1]], [y, y], color='#2f66e8', lw=2.4, zorder=4)
bg.add_patch(Rectangle((16, 6), 1875, 2597, fill=False, ec='#111111', lw=1.3, zorder=6))
for y, lw in ((187, 1.8), (390, 2.2), (2218, 2.2), (2422, 1.5)):
    bg.plot([16, 1891], [y, y], color='#222222', lw=lw, zorder=6)

FS = 9.6
def txt(x, y, s, ha='center', **k):
    bg.text(x, y, s, ha=ha, va='center', fontsize=k.pop('fs', FS), color=k.pop('c', '#111111'), zorder=8, **k)

def box(c0, c1, y0, y1):
    bg.add_patch(Rectangle((X[c0], y0), X[c1]-X[c0], y1-y0, fill=False, ec='#333333', lw=.9, zorder=5))

def cell_line(col, row, top, title, color, left, unit, right, ls='-'):
    x0, x1 = X[col], X[col+1]
    y = top + row*ROW
    box(col, col+1, y, y+ROW)
    txt((x0+x1)/2, y+9, title)
    bg.plot([x0+5, x1-5], [y+17, y+17], color=color, lw=2.3, ls=ls, zorder=6, solid_capstyle='butt', dash_capstyle='butt')
    txt(x0+3, y+26, left, ha='left'); txt((x0+x1)/2, y+26, unit); txt(x1-3, y+26, right, ha='right')

def cell_sw(col, row, top, title, color, left, right, w=None):
    x0, x1 = X[col], X[col+1]
    y = top + row*ROW
    box(col, col+1, y, y+ROW)
    w = w or (x1-x0)*.28
    for xs in (x0+3, x1-3-w):
        bg.add_patch(Rectangle((xs, y+3.5), w, 10, fc=color, ec='none', zorder=6))
    txt((x0+x1)/2, y+9, title)
    txt(x0+3, y+26, left, ha='left'); txt(x1-3, y+26, right, ha='right')

DRY_C, CBW_C, QTZ_C, SID_C, H_C, W_C = '#978c73', '#bbbbbb', '#ffff00', '#2c5bd8', '#ff0000', '#88f5d0'

def header(top):
    for r, (n, c) in enumerate((('PAY_45_8_50', '#ccffcc'), ('PAY_45_5_60', '#ff00ff'), ('PAY_45_3_60', '#ff0000'))):
        cell_sw(0, r, top, n, c, n, '0', w=66)
    cell_line(1, 0, top, 'CALIPER', GRAYD, '125', 'mm', '375', DASH_CAL)
    cell_line(1, 1, top, 'GR_TOT', 'black', '0', 'gAPI', '250')
    cell_sw(1, 2, top, 'BADHOLE', 'black', 'BADHOLE', '0', w=48)
    cell_line(2, 0, top, 'DENSCOR', GRAYD, '-50', 'kg/m3', '350', DASH_DEN)
    cell_line(2, 1, top, 'DENS', 'black', '2000', 'kg/m3', '3000')
    cell_line(2, 2, top, 'DENSmech', RED, '2000', 'kg/m3', '3000')
    cell_sw(2, 3, top, 'DENSCOR>150', '#bbbbbb', '150', 'DENSCOR', w=60)
    cell_line(3, 0, top, 'DELT', 'black', '600', 'us/m', '100')
    cell_line(3, 1, top, 'DELTmech', RED, '600', 'us/m', '100')
    cell_line(3, 2, top, 'DELTS', 'black', '600', 'us/m', '100')
    cell_line(3, 3, top, 'DELTSmech', BLUE2, '600', 'us/m', '100')
    cell_line(4, 0, top, 'BIOTVmech', 'black', '0.5', '', '1')
    cell_line(4, 1, top, 'VPmechVSmech', BLUEK, '1.5', 'dime', '2.5')
    cell_line(5, 0, top, 'N', RED, '0', 'GPa', '50')
    cell_line(5, 1, top, 'Kb', BLUEK, '0', 'GPa', '50')
    cell_line(6, 0, top, 'PRmech', RED, '0.1', 'dime', '0.4')
    cell_line(7, 0, top, 'ESmech', BLUEK, '0', 'GPa', '80')
    cell_line(7, 1, top, 'EDmech', RED, '0', 'GPa', '80')
    cell_line(8, 0, top, 'BImech', 'black', '20', '', '100')
    # gradient legend
    x0, x1 = X[8], X[9]
    y = top+ROW
    box(8, 9, y, y+ROW)
    grad = BI_CMAP(np.linspace(0, 1, 256))[None, :, :3]
    bg.imshow(grad, extent=[x0+3, x1-3, y+13, y+3], aspect='auto', zorder=6)
    bg.set_xlim(0, W); bg.set_ylim(H, 0)
    txt(x0+3, y+26, '20', ha='left'); txt(x1-3, y+26, 'BImech', ha='right')
    # facies
    box(9, 10, top, top+ROW)
    txt((X[9]+X[10])/2, top+9, 'FACIES')
    sw = (X[10]-X[9]-12)/5
    for i, k in enumerate('YOLDC'):
        bg.add_patch(Rectangle((X[9]+6+i*sw, top+17), sw, 12, fc=FACIES_COLOR[k], ec='none', zorder=6))
    # volumes
    for r, (n, c) in enumerate((('BVDRYC', DRY_C), ('BVCBW', CBW_C), ('BVQTZ', QTZ_C), ('BVSID', SID_C), ('BVH', H_C), ('BVW', W_C))):
        y = top+r*ROW
        box(10, 11, y, y+ROW)
        x0, x1 = X[10]+7, X[11]-7
        kw = dict(hatch='++', ec='#101030', lw=0) if n == 'BVSID' else dict(ec='none')
        bg.add_patch(Rectangle((x0, y+5), x1-x0, 23, fc=c, zorder=6, **kw))
        if n == 'BVDRYC':
            dry_tex(bg, x0, x1, y+5, y+28, 6, 7.5)
        if n == 'BVQTZ':
            qtz_tex(bg, x0, x1, y+5, y+28, 10, 8)
        bg.text((x0+x1)/2, y+16, n, ha='center', va='center', fontsize=FS, color='#111111', zorder=9,
                bbox=dict(fc='white', ec='none', pad=3.5))
        bg.text(X[10]+3, y+25, '0', ha='left', va='center', fontsize=FS, color='#111111', zorder=9,
                bbox=dict(fc='white', ec='none', pad=.6))
        bg.text(X[11]-3, y+25, '1', ha='right', va='center', fontsize=FS, color='#111111', zorder=9,
                bbox=dict(fc='white', ec='none', pad=.6))

def logo(dy):
    C = '#1f4e9a'
    bg.add_patch(Polygon([(268, 25+dy), (289, 25+dy), (340, 119+dy), (318, 119+dy), (287, 82+dy), (269, 119+dy), (247, 119+dy), (279, 57+dy)], fc=C, ec='none', zorder=7))
    bg.add_patch(Polygon([(300, 25+dy), (378, 25+dy), (370, 48+dy), (342, 48+dy), (342, 112+dy)], fc=C, ec='none', zorder=7))
    bg.text(373, 90+dy, 'APTIAN', ha='left', va='baseline', fontsize=38, fontweight='bold', color=C, family='DejaVu Sans', zorder=7)
    bg.text(373, 123+dy, 'TECHNICAL', ha='left', va='baseline', fontsize=20, color=C, family='Lato', fontweight='normal', zorder=7)
    bg.text(608, 115+dy, 'LTD', ha='center', va='baseline', fontsize=11, fontweight='bold', color=C, zorder=7)
    for yy in (99, 119):
        bg.plot([585, 632], [yy+dy, yy+dy], color=C, lw=1.6, zorder=7)
    bg.text(691, 110+dy, 'Copyright (c) 2019, Aptian Technical Ltd., All Rights Reserved', ha='left', va='center',
            fontsize=12.35, color='#16169a', family='Liberation Serif', zorder=7)

header(HDR_TOP_A)
header(HDR_TOP_B)
logo(0)
logo(2416)

fig.savefig('out.png', dpi=100, facecolor='white')
